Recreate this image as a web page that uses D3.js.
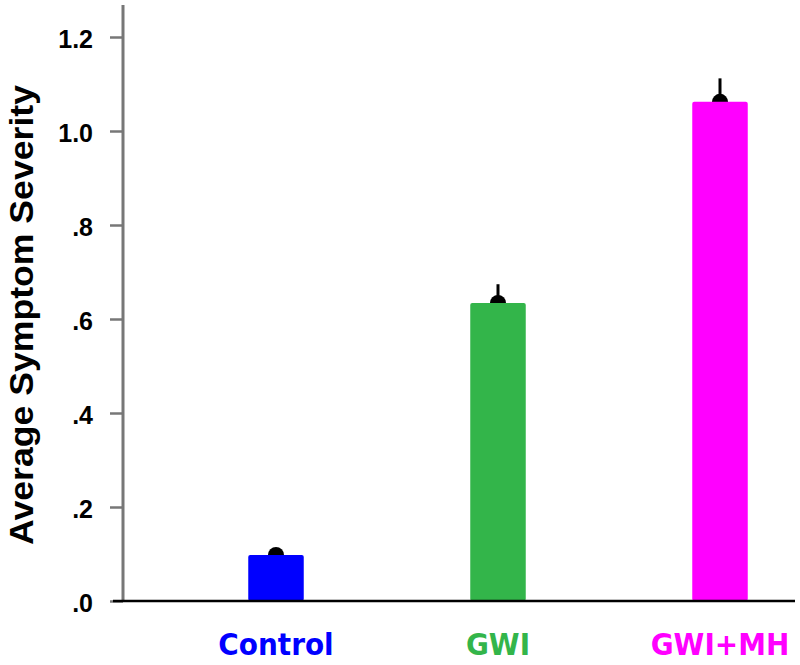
<!DOCTYPE html>
<html>
<head>
<meta charset="utf-8">
<script src="https://cdn.jsdelivr.net/npm/d3@7"></script>
<style>
  body { margin: 0; background: #fff; }
  svg { display: block; }
</style>
</head>
<body>
<svg id="chart" width="800" height="665"></svg>
<script>
// data
const groups     = ["Control", "GWI", "GWI+MH"];
const means      = [0.098, 0.634, 1.062];
const errors     = [0.008, 0.040, 0.050];
const colors     = ["#0000ff", "#33b54a", "#ff00ff"];
const tickValues = [0, 0.2, 0.4, 0.6, 0.8, 1.0, 1.2];
const tickLabels = [".0", ".2", ".4", ".6", ".8", "1.0", "1.2"];

const svg = d3.select("#chart");

const x = d3.scaleBand()
  .domain(groups)
  .range([165, 831])
  .paddingInner(0.75)
  .paddingOuter(0.375);

const y = d3.scaleLinear()
  .domain([0, 1.2])
  .range([601, 37]);

// y axis (gray line with ticks)
const yAxis = svg.append("g")
  .attr("transform", "translate(123,0)")
  .call(d3.axisLeft(y)
    .tickValues(tickValues)
    .tickFormat((d, i) => tickLabels[i])
    .tickSize(13)
    .tickPadding(17));
yAxis.select(".domain").remove();
yAxis.selectAll(".tick line").attr("stroke", "#777").attr("stroke-width", 2.5);
yAxis.selectAll(".tick text")
  .attr("fill", "#000")
  .attr("dy", "0.4em")
  .style("font-family", "Arial, 'Liberation Sans', sans-serif")
  .style("font-weight", "bold")
  .style("font-size", "25px");

svg.append("line")
  .attr("x1", 123).attr("x2", 123)
  .attr("y1", 5).attr("y2", 601)
  .attr("stroke", "#777").attr("stroke-width", 3);

// bars, dots and error bars
const bar = svg.append("g").selectAll("g")
  .data(groups)
  .join("g");

bar.append("line")
  .attr("x1", d => x(d) + x.bandwidth() / 2)
  .attr("x2", d => x(d) + x.bandwidth() / 2)
  .attr("y1", (d, i) => y(means[i]))
  .attr("y2", (d, i) => y(means[i] + errors[i]))
  .attr("stroke", "#000").attr("stroke-width", 3);

bar.append("circle")
  .attr("cx", d => x(d) + x.bandwidth() / 2)
  .attr("cy", (d, i) => y(means[i]))
  .attr("r", 8)
  .attr("fill", "#000");

bar.append("rect")
  .attr("x", d => x(d))
  .attr("y", (d, i) => y(means[i]))
  .attr("width", x.bandwidth())
  .attr("height", (d, i) => y(0) - y(means[i]))
  .attr("rx", 2)
  .attr("fill", (d, i) => colors[i]);

// x axis baseline
svg.append("line")
  .attr("x1", 113).attr("x2", 795)
  .attr("y1", 601).attr("y2", 601)
  .attr("stroke", "#000").attr("stroke-width", 2.5);

// group labels
svg.append("g").selectAll("text")
  .data(groups)
  .join("text")
  .attr("x", d => x(d) + x.bandwidth() / 2)
  .attr("y", 655)
  .attr("text-anchor", "middle")
  .attr("fill", (d, i) => colors[i])
  .style("font-family", "'DejaVu Sans Condensed', 'DejaVu Sans', sans-serif")
  .style("font-weight", "bold")
  .style("font-size", "31px")
  .text(d => d);

// y axis title
svg.append("text")
  .attr("transform", "translate(33,315) rotate(-90)")
  .attr("text-anchor", "middle")
  .attr("fill", "#000")
  .attr("textLength", 460)
  .attr("lengthAdjust", "spacingAndGlyphs")
  .style("font-family", "Arial, 'Liberation Sans', sans-serif")
  .style("font-weight", "bold")
  .style("font-size", "33px")
  .text("Average Symptom Severity");
</script>
</body>
</html>
